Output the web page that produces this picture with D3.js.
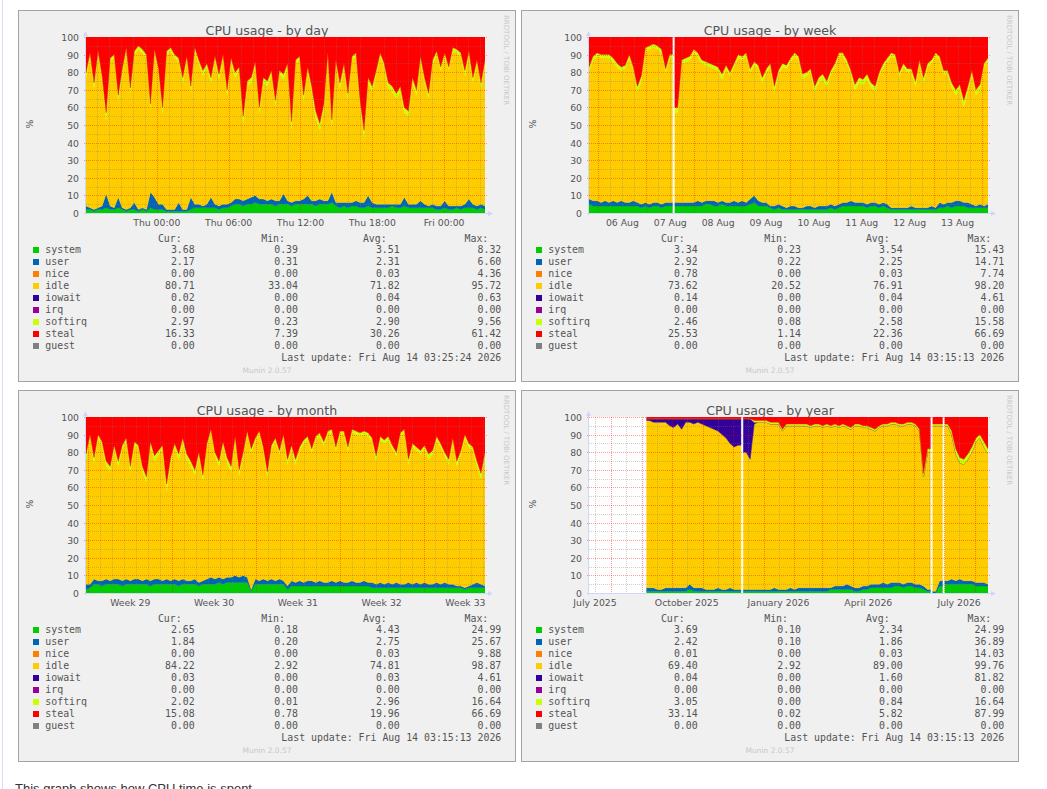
<!DOCTYPE html>
<html>
<head>
<meta charset="utf-8">
<script src="https://d3js.org/d3.v7.min.js"></script>
<style>
    body { margin: 0; background: #fff; overflow: hidden; }
    svg { display: block; }
    .title { font-family: "DejaVu Sans", sans-serif; font-size: 12.6px; fill: #555; }
    .tick { font-family: "DejaVu Sans", sans-serif; font-size: 9.3px; fill: #555; }
    .legend text { font-family: "DejaVu Sans Mono", monospace; font-size: 9.9px; fill: #555; white-space: pre; }
    .credit { font-family: "DejaVu Sans", sans-serif; font-size: 7px; fill: #c8c8c8; }
    .note { font-family: "Liberation Sans", Arial, sans-serif; font-size: 13px; fill: #333; }
</style>
</head>
<body>
<script>
// munin cpu plugin fields, in stacking order
var names = ["system", "user", "nice", "idle", "iowait", "irq", "softirq", "steal", "guest"];
var colors = ["#00cc00", "#0066b3", "#ff8000", "#ffcc00", "#330099", "#990099", "#ccff00", "#ff0000", "#808080"];
var statHeads = ["Cur:", "Min:", "Avg:", "Max:"];

// ---- by day ----
var daySystem = [2,2,1,2,2,3,2,2,3,2, 1,2,2,1,2,1,3,2,2,2, 1,1,1,1,1,1,2,3,3,3, 3,3,3,2,3,3,4,5,5,4, 5,5,6,5,5,5,5,4,5,5, 5,4,5,5,5,5,5,4,5,5, 5,6,4,3,4,3,4,4,3,3, 4,3,3,3,3,3,4,3,3,4, 3,3,3,3,3,3,3,2,2,3, 2,2,3,2,3,3,3,2,3,2];
var dayUser = [2,1,1,1,2,8,2,1,6,1, 1,1,4,1,1,1,9,7,3,3, 1,1,1,5,1,1,7,2,2,1, 2,6,2,2,2,2,2,3,3,3, 3,4,4,3,3,2,3,3,2,6, 2,2,2,2,3,5,2,3,3,2, 2,6,2,3,2,3,2,3,3,3, 6,3,2,2,2,2,1,2,2,5, 2,2,2,4,2,1,2,2,2,4, 2,2,1,2,2,5,2,2,2,2];
var dayIdle = [73,86,69,87,71,42,82,85,55,76, 90,65,84,91,88,86,47,82,74,52, 88,90,86,80,72,85,60,87,80,74, 78,65,82,72,83,62,80,69,73,44, 64,65,74,49,66,65,71,54,72,65, 76,42,78,80,56,71,62,47,39,52, 82,37,79,65,77,59,81,82,55,37, 64,63,74,84,78,66,64,60,64,48, 50,69,62,80,69,61,80,86,77,82, 77,88,87,85,73,82,69,81,66,81];
var daySoftirq = [3,2,3,2,3,4,2,2,3,3, 2,3,2,2,2,2,3,2,3,3, 2,2,2,2,3,2,3,2,2,3, 2,3,2,3,2,3,2,3,2,4, 3,3,2,3,3,3,2,3,2,3, 2,4,2,2,3,2,3,4,4,3, 2,4,2,3,2,3,2,2,3,4, 3,3,2,2,2,3,3,3,3,3, 3,3,3,2,3,3,2,2,2,2, 2,2,2,2,3,2,3,2,3,2];
var daySteal = [20,9,26,8,22,43,12,10,33,18, 6,29,8,5,7,10,38,7,18,40, 8,6,10,12,23,11,28,6,13,19, 15,23,11,21,10,30,12,20,17,45, 25,23,14,40,23,25,19,36,19,21, 15,48,13,11,33,17,28,42,49,38, 9,47,13,26,15,32,11,9,36,53, 23,28,19,9,15,26,28,32,28,40, 42,23,30,11,23,32,13,8,17,9, 17,6,7,9,19,8,23,13,26,13];
var dayTickLabels = ["Thu 00:00", "Thu 06:00", "Thu 12:00", "Thu 18:00", "Fri 00:00"];
var dayTickTimes = [new Date(2026, 7, 13, 0), new Date(2026, 7, 13, 6), new Date(2026, 7, 13, 12), new Date(2026, 7, 13, 18), new Date(2026, 7, 14, 0)];
var dayCur = [3.68, 2.17, 0.00, 80.71, 0.02, 0.00, 2.97, 16.33, 0.00];
var dayMin = [0.39, 0.31, 0.00, 33.04, 0.00, 0.00, 0.23, 7.39, 0.00];
var dayAvg = [3.51, 2.31, 0.03, 71.82, 0.04, 0.00, 2.90, 30.26, 0.00];
var dayMax = [8.32, 6.60, 4.36, 95.72, 0.63, 0.00, 9.56, 61.42, 0.00];

// ---- by week ----
var weekSystem = [5,4,4,4,4,4,4,4,4,4, 4,4,4,3,4,3,4,4,3,4, 4,null,4,4,4,4,4,4,4,5, 5,4,4,5,4,4,4,4,4,4, 5,6,4,4,4,3,2,3,2,2, 2,2,2,2,2,2,2,2,2,2, 3,2,3,4,4,4,4,4,4,3, 4,4,3,4,3,2,2,2,2,2, 2,2,2,2,2,2,2,3,3,4, 3,4,4,4,3,3,3,3,3,3];
var weekUser = [3,3,3,2,3,2,3,2,3,2, 2,3,2,2,2,2,2,2,2,2, 2,null,2,2,2,2,2,3,2,2, 2,3,2,2,2,2,3,2,3,2, 3,4,3,2,2,1,2,2,2,1, 2,2,1,1,2,2,1,2,2,2, 2,2,2,2,2,3,2,2,2,2, 2,2,2,2,2,1,1,1,1,1, 2,1,1,1,1,2,1,3,2,2, 3,3,3,2,3,2,1,2,1,2];
var weekIdle = [73,80,82,82,81,82,79,77,74,76, 82,74,63,70,86,88,88,87,86,74, 82,null,51,79,80,81,85,82,79,77, 76,75,75,69,76,72,76,82,80,83, 72,74,75,68,74,79,65,74,79,79, 82,85,84,73,74,76,66,70,72,68, 74,79,84,83,79,72,64,68,67,71, 65,63,73,77,81,86,85,75,80,77, 76,69,82,71,80,81,86,81,74,73, 65,60,63,54,63,74,63,65,79,81];
var weekSoftirq = [2,2,2,2,2,2,2,2,2,2, 2,2,3,3,2,2,2,2,2,2, 2,null,3,2,2,2,2,2,2,2, 2,2,2,3,2,2,2,2,2,2, 2,2,2,3,2,2,3,2,2,2, 2,2,2,3,2,2,3,3,3,3, 2,2,2,2,2,2,3,3,3,3, 3,3,2,2,2,2,2,2,2,2, 2,3,2,3,2,2,2,2,2,2, 3,3,3,4,3,2,3,3,2,2];
var weekSteal = [17,11,9,10,10,10,12,15,17,16, 10,17,28,22,6,5,4,5,7,18, 10,null,40,13,12,11,7,9,13,14, 15,16,17,21,16,20,15,10,11,9, 18,14,16,23,18,15,28,19,15,16, 12,9,11,21,20,18,28,23,21,25, 19,15,9,9,13,19,27,23,24,21, 26,28,20,15,12,9,10,20,15,18, 18,25,13,23,15,13,9,11,19,19, 26,30,27,36,28,19,30,27,15,12];
var weekTickLabels = ["06 Aug", "07 Aug", "08 Aug", "09 Aug", "10 Aug", "11 Aug", "12 Aug", "13 Aug"];
var weekTickTimes = [new Date(2026, 7, 6, 12), new Date(2026, 7, 7, 12), new Date(2026, 7, 8, 12), new Date(2026, 7, 9, 12), new Date(2026, 7, 10, 12), new Date(2026, 7, 11, 12), new Date(2026, 7, 12, 12), new Date(2026, 7, 13, 12)];
var weekCur = [3.34, 2.92, 0.78, 73.62, 0.14, 0.00, 2.46, 25.53, 0.00];
var weekMin = [0.23, 0.22, 0.00, 20.52, 0.00, 0.00, 0.08, 1.14, 0.00];
var weekAvg = [3.54, 2.25, 0.03, 76.91, 0.04, 0.00, 2.58, 22.36, 0.00];
var weekMax = [15.43, 14.71, 7.74, 98.20, 4.61, 0.00, 15.58, 66.69, 0.00];

// ---- by month ----
var monthSystem = [2,3,5,5,4,5,5,5,5,4, 5,5,5,5,5,5,4,5,5,5, 5,5,5,4,5,5,5,5,4,5, 5,5,5,6,5,6,6,6,6,6, 6,1,5,5,5,5,5,5,5,5, 2,4,4,4,4,4,4,4,4,4, 4,4,4,4,4,4,4,4,4,4, 4,3,3,3,3,3,3,3,3,3, 3,3,3,3,3,3,3,3,3,3, 3,3,3,3,2,3,3,3,3,3];
var monthUser = [3,2,3,2,3,3,2,3,3,3, 3,2,3,3,2,3,3,3,3,2, 3,2,3,3,3,2,2,3,2,2, 3,4,3,3,3,3,3,4,3,4, 3,1,3,2,3,2,3,2,3,2, 2,3,2,3,2,3,3,2,3,2, 2,3,2,3,2,2,3,2,2,3, 2,3,2,3,2,3,2,3,2,2, 3,2,3,2,3,2,2,3,2,3, 2,2,1,1,1,1,2,3,2,1];
var monthIdle = [71,83,66,81,77,64,62,74,64,75, 78,62,76,74,62,55,77,67,71,75, 50,67,75,69,78,69,65,59,72,57, 75,82,70,63,76,65,60,77,58,68, 81,78,78,83,73,59,74,79,71,81, 69,75,67,74,79,80,73,81,82,78, 84,84,75,83,84,75,84,84,83,83, 83,80,70,81,80,81,77,72,84,86, 67,78,75,74,76,71,74,81,78,72, 68,81,68,75,85,79,76,66,60,74];
var monthSoftirq = [3,2,3,2,2,3,3,2,3,2, 2,3,2,2,3,3,2,3,2,2, 4,3,2,3,2,3,3,3,2,3, 2,2,2,3,2,3,3,2,3,2, 2,2,2,2,2,3,2,2,2,2, 3,2,3,2,2,2,2,2,2,2, 2,2,2,2,2,2,2,2,2,2, 2,2,3,2,2,2,2,2,2,2, 3,2,2,2,2,3,2,2,2,2, 3,2,3,2,2,2,2,3,3,2];
var monthSteal = [21,10,23,10,14,25,28,16,25,16, 12,28,14,16,28,34,14,22,19,16, 38,23,15,21,12,21,25,30,20,33, 15,7,20,25,14,23,28,11,30,20, 8,18,12,8,17,31,16,12,19,10, 24,16,24,17,13,11,18,11,9,14, 8,7,17,8,8,17,7,8,9,8, 9,12,22,11,13,11,16,20,9,7, 24,15,17,19,16,21,19,11,15,20, 24,12,25,19,10,15,17,25,32,20];
var monthTickLabels = ["Week 29", "Week 30", "Week 31", "Week 32", "Week 33"];
var monthTickTimes = [new Date(2026, 6, 15, 12), new Date(2026, 6, 22, 12), new Date(2026, 6, 29, 12), new Date(2026, 7, 5, 12), new Date(2026, 7, 12, 12)];
var monthCur = [2.65, 1.84, 0.00, 84.22, 0.03, 0.00, 2.02, 15.08, 0.00];
var monthMin = [0.18, 0.20, 0.00, 2.92, 0.00, 0.00, 0.01, 0.78, 0.00];
var monthAvg = [4.43, 2.75, 0.03, 74.81, 0.03, 0.00, 2.96, 19.96, 0.00];
var monthMax = [24.99, 25.67, 9.88, 98.87, 4.61, 0.00, 16.64, 66.69, 0.00];

// ---- by year (null = no data) ----
var yearSystem = [null,null,null,null,null,null,null,null,null,null,null,null,null,null, null,1,1,1,1,1, 1,1,1,1,1,2,1,1,1,1, 1,1,1,1,1,1,1,1,null,1, 1,1,1,1,1,1,1,1,1,1, 1,1,1,1,1,1,1,1,1,1, 2,2,2,2,2,2,1,1,2,2, 3,3,3,3,3,3,4,4,3,4, 4,3,3,2,1,null,0,4,null,5, 5,5,5,5,5,5,4,4,4,4];
var yearUser = [null,null,null,null,null,null,null,null,null,null,null,null,null,null, null,2,2,1,1,2, 2,2,2,2,2,3,2,2,2,1, 1,1,2,1,1,2,1,1,null,1, 1,1,1,1,1,1,2,1,1,1, 2,1,2,2,2,2,2,2,2,2, 1,2,2,2,3,2,2,2,2,2, 2,2,2,3,2,3,2,2,2,2, 2,2,2,2,1,null,1,3,null,2, 3,2,3,2,2,2,2,2,2,1];
var yearIdle = [null,null,null,null,null,null,null,null,null,null,null,null,null,null, null,95,94,95,95,94, 92,91,93,90,94,92,93,94,93,93, 92,91,89,88,86,82,81,82,null,78, 74,94,95,95,95,94,93,94,90,93, 92,93,92,92,92,91,92,92,91,92, 91,91,90,91,89,89,92,92,90,90, 88,87,89,89,90,90,90,89,90,90, 90,90,87,62,78,null,94,88,null,88, 82,72,66,66,69,73,80,82,77,74];
var yearIowait = [null,null,null,null,null,null,null,null,null,null,null,null,null,null, null,1,2,2,2,2, 4,5,3,6,2,2,3,2,3,4, 5,6,7,9,11,14,16,15,null,19, 23,1,0,0,0,0,0,0,0,0, 0,0,0,0,0,0,0,0,0,0, 0,0,0,0,0,0,0,0,0,0, 0,0,0,0,0,0,0,0,0,0, 0,0,0,0,0,null,0,0,null,0, 0,0,0,0,0,0,0,0,0,0];
var yearSoftirq = [null,null,null,null,null,null,null,null,null,null,null,null,null,null, null,0,0,0,0,0, 0,0,0,0,0,0,0,0,0,0, 0,0,0,0,0,0,0,0,null,0, 0,1,1,1,1,1,1,1,1,1, 1,1,1,1,1,1,1,1,1,1, 1,1,1,1,1,1,1,1,1,1, 1,1,1,1,1,1,1,1,1,1, 1,1,1,2,2,null,1,1,null,1, 2,3,3,3,3,3,2,2,3,3];
var yearSteal = [null,null,null,null,null,null,null,null,null,null,null,null,null,null, null,1,1,1,1,1, 1,1,1,1,1,1,1,1,1,1, 1,1,1,1,1,1,1,1,null,1, 1,2,2,2,2,3,3,3,7,4, 4,4,4,4,4,5,4,4,5,4, 5,4,5,4,5,6,4,4,5,5, 6,7,5,4,4,3,3,4,4,3, 3,4,7,32,18,null,4,4,null,4, 8,18,23,24,21,17,12,10,14,18];
var yearTickLabels = ["July 2025", "October 2025", "January 2026", "April 2026", "July 2026"];
var yearTickTimes = [new Date(2025, 6, 16), new Date(2025, 9, 16), new Date(2026, 0, 16), new Date(2026, 3, 16), new Date(2026, 6, 16)];
var yearCur = [3.69, 2.42, 0.01, 69.40, 0.04, 0.00, 3.05, 33.14, 0.00];
var yearMin = [0.10, 0.10, 0.00, 2.92, 0.00, 0.00, 0.00, 0.02, 0.00];
var yearAvg = [2.34, 1.86, 0.03, 89.00, 1.60, 0.00, 0.84, 5.82, 0.00];
var yearMax = [24.99, 36.89, 14.03, 99.76, 81.82, 0.00, 16.64, 87.99, 0.00];

var PW = 399, PH = 176;
// how far a sample's column reaches toward a missing neighbour (in samples)
var EXT = 0.7;

var graphs = [
    { title: "CPU usage - by day", x: 18, y: 10,
      start: new Date(2026, 7, 12, 18, 5), end: new Date(2026, 7, 14, 3, 25),
      series: { system: daySystem, user: dayUser, idle: dayIdle, softirq: daySoftirq, steal: daySteal },
      minor: function (s, e) { return d3.timeHour.every(1).range(s, e); },
      major: function (s, e) { return d3.timeHour.every(6).range(s, e); },
      tickTimes: dayTickTimes, tickLabels: dayTickLabels,
      stats: [dayCur, dayMin, dayAvg, dayMax], updated: "Fri Aug 14 03:25:24 2026" },
    { title: "CPU usage - by week", x: 521, y: 10,
      start: new Date(2026, 7, 5, 19, 15), end: new Date(2026, 7, 14, 3, 15),
      series: { system: weekSystem, user: weekUser, idle: weekIdle, softirq: weekSoftirq, steal: weekSteal },
      minor: function (s, e) { return d3.timeHour.every(6).range(s, e); },
      major: function (s, e) { return d3.timeDay.range(s, e); },
      tickTimes: weekTickTimes, tickLabels: weekTickLabels,
      stats: [weekCur, weekMin, weekAvg, weekMax], updated: "Fri Aug 14 03:15:13 2026" },
    { title: "CPU usage - by month", x: 18, y: 390,
      start: new Date(2026, 6, 11, 19, 15), end: new Date(2026, 7, 14, 3, 15),
      series: { system: monthSystem, user: monthUser, idle: monthIdle, softirq: monthSoftirq, steal: monthSteal },
      minor: function (s, e) { return d3.timeDay.range(s, e); },
      major: function (s, e) { return d3.timeSunday.range(s, e); },
      tickTimes: monthTickTimes, tickLabels: monthTickLabels,
      stats: [monthCur, monthMin, monthAvg, monthMax], updated: "Fri Aug 14 03:15:13 2026" },
    { title: "CPU usage - by year", x: 521, y: 390,
      start: new Date(2025, 6, 10), end: new Date(2026, 7, 14),
      series: { system: yearSystem, user: yearUser, idle: yearIdle, iowait: yearIowait, softirq: yearSoftirq, steal: yearSteal },
      minor: function (s, e) { return d3.timeDay.range(s, e).filter(function (d) { return d.getDate() === 16; }); },
      major: function (s, e) { return d3.timeMonth.range(s, e); },
      tickTimes: yearTickTimes, tickLabels: yearTickLabels,
      stats: [yearCur, yearMin, yearAvg, yearMax], updated: "Fri Aug 14 03:15:13 2026" }
];

var svg = d3.select("body").append("svg")
    .attr("width", 1047)
    .attr("height", 789);

// page frame line on the left
svg.append("line")
    .attr("x1", 2.5).attr("x2", 2.5)
    .attr("y1", 0).attr("y2", 789)
    .attr("stroke", "#dadef2");

graphs.forEach(drawGraph);

svg.append("text")
    .attr("class", "note")
    .attr("x", 15)
    .attr("y", 792.5)
    .text("This graph shows how CPU time is spent.");

function crisp(v) { return Math.round(v) + 0.5; }

// rrd samples fill a column; stretch segment ends toward missing neighbours
function columns(layer) {
    var pts = [];
    layer.forEach(function (d, i) {
        var ok = d.data.ok;
        if (ok && i > 0 && !layer[i - 1].data.ok) pts.push({ pos: i - EXT, d: d, ok: true });
        pts.push({ pos: i, d: d, ok: ok });
        if (ok && i < layer.length - 1 && !layer[i + 1].data.ok) pts.push({ pos: i + EXT, d: d, ok: true });
    });
    return pts;
}

function drawGraph(cfg, gi) {
    var panel = svg.append("g")
        .attr("transform", "translate(" + cfg.x + "," + cfg.y + ")");

    panel.append("rect")
        .attr("x", 0.5).attr("y", 0.5)
        .attr("width", 497).attr("height", 371)
        .attr("fill", "#f0f0f0")
        .attr("stroke", "#a3a3a3");

    panel.append("text")
        .attr("class", "title")
        .attr("x", 249).attr("y", 25)
        .style("text-anchor", "middle")
        .text(cfg.title);

    panel.append("text")
        .attr("class", "tick")
        .attr("transform", "translate(15,114) rotate(-90)")
        .style("text-anchor", "middle")
        .text("%");

    panel.append("text")
        .attr("class", "credit")
        .attr("transform", "translate(486,5) rotate(90)")
        .text("RRDTOOL / TOBI OETIKER");

    var plot = panel.append("g").attr("transform", "translate(68,27)");

    var n = cfg.series.idle.length;
    var keys = names.filter(function (k) { return cfg.series[k]; });
    var rows = d3.range(n).map(function (i) {
        var r = { i: i, ok: cfg.series.idle[i] != null };
        keys.forEach(function (k) { r[k] = cfg.series[k][i] || 0; });
        return r;
    });
    var layers = d3.stack().keys(keys)(rows);

    var xi = d3.scaleLinear().domain([0, n - 1]).range([0, PW]);
    var xt = d3.scaleTime().domain([cfg.start, cfg.end]).range([0, PW]);
    var y = d3.scaleLinear().domain([0, 100]).range([PH, 0]);

    plot.append("rect")
        .attr("width", PW).attr("height", PH)
        .attr("fill", "#fff");

    var clipId = "clip" + gi;
    plot.append("clipPath").attr("id", clipId)
        .append("rect").attr("width", PW).attr("height", PH);

    var area = d3.area()
        .defined(function (p) { return p.ok; })
        .x(function (p) { return xi(p.pos); })
        .y0(function (p) { return y(p.d[0]); })
        .y1(function (p) { return y(p.d[1]); });

    plot.append("g")
        .attr("clip-path", "url(#" + clipId + ")")
        .selectAll("path")
        .data(layers)
        .enter().append("path")
        .attr("d", function (layer) { return area(columns(layer)); })
        .attr("fill", function (d) { return colors[names.indexOf(d.key)]; })
        .attr("stroke", function (d) { return colors[names.indexOf(d.key)]; })
        .attr("stroke-width", 0.4);

    // grid, drawn over the data as rrdtool does
    var grid = plot.append("g")
        .attr("fill", "none")
        .attr("stroke-dasharray", "1,1");
    var minorColor = "rgba(120,120,120,0.35)", majorColor = "rgba(255,0,0,0.38)";

    d3.range(5, 100, 10).forEach(function (v) {
        grid.append("line")
            .attr("x1", 0).attr("x2", PW)
            .attr("y1", crisp(y(v))).attr("y2", crisp(y(v)))
            .attr("stroke", minorColor);
    });
    var majors = cfg.major(cfg.start, cfg.end);
    cfg.minor(cfg.start, cfg.end)
        .filter(function (t) { return !majors.some(function (m) { return +m === +t; }); })
        .forEach(function (t) {
            grid.append("line")
                .attr("x1", crisp(xt(t))).attr("x2", crisp(xt(t)))
                .attr("y1", 0).attr("y2", PH + 2)
                .attr("stroke", minorColor);
        });
    majors.forEach(function (t) {
        grid.append("line")
            .attr("x1", crisp(xt(t))).attr("x2", crisp(xt(t)))
            .attr("y1", 0).attr("y2", PH + 2)
            .attr("stroke", majorColor);
    });
    d3.range(10, 101, 10).forEach(function (v) {
        grid.append("line")
            .attr("x1", -2).attr("x2", PW + 2)
            .attr("y1", crisp(y(v))).attr("y2", crisp(y(v)))
            .attr("stroke", majorColor);
    });

    // axes and arrows
    var axisColor = "#cfd6f8";
    plot.append("line")
        .attr("x1", -2).attr("x2", PW + 4)
        .attr("y1", PH + 0.5).attr("y2", PH + 0.5)
        .attr("stroke", axisColor);
    plot.append("line")
        .attr("x1", -0.5).attr("x2", -0.5)
        .attr("y1", PH + 2).attr("y2", -2)
        .attr("stroke", axisColor);
    plot.append("path")
        .attr("d", "M" + (PW + 3) + "," + (PH - 2) + "L" + (PW + 8) + "," + (PH + 0.5) + "L" + (PW + 3) + "," + (PH + 3) + "Z")
        .attr("fill", axisColor);
    plot.append("path")
        .attr("d", "M-3,-1L-0.5,-6L2,-1Z")
        .attr("fill", axisColor);

    // y labels
    d3.range(0, 101, 10).forEach(function (v) {
        plot.append("text")
            .attr("class", "tick")
            .attr("x", -7).attr("y", y(v) + 4)
            .style("text-anchor", "end")
            .text(v);
    });

    // x labels
    cfg.tickTimes.forEach(function (t, j) {
        plot.append("text")
            .attr("class", "tick")
            .attr("x", xt(t)).attr("y", PH + 13.3)
            .style("text-anchor", "middle")
            .text(cfg.tickLabels[j]);
    });

    // legend
    var lg = panel.append("g").attr("class", "legend");
    var colX = [176.7, 280, 381.7, 483.3];
    statHeads.forEach(function (h, j) {
        lg.append("text")
            .attr("x", colX[j] - 13).attr("y", 231.6)
            .style("text-anchor", "end")
            .text(h);
    });
    names.forEach(function (name, k) {
        var yb = 243.4 + 12 * k;
        lg.append("rect")
            .attr("x", 15).attr("y", yb - 6.4)
            .attr("width", 6).attr("height", 6)
            .attr("fill", colors[k]);
        lg.append("text")
            .attr("x", 27.3).attr("y", yb)
            .text(name);
        cfg.stats.forEach(function (arr, j) {
            lg.append("text")
                .attr("x", colX[j]).attr("y", yb)
                .style("text-anchor", "end")
                .text(arr[k].toFixed(2));
        });
    });
    lg.append("text")
        .attr("x", colX[3]).attr("y", 243.4 + 12 * 9)
        .style("text-anchor", "end")
        .text("Last update: " + cfg.updated);

    panel.append("text")
        .attr("class", "credit")
        .attr("x", 249).attr("y", 362.5)
        .style("font-size", "7.5px")
        .style("text-anchor", "middle")
        .text("Munin 2.0.57");
}
</script>
</body>
</html>
